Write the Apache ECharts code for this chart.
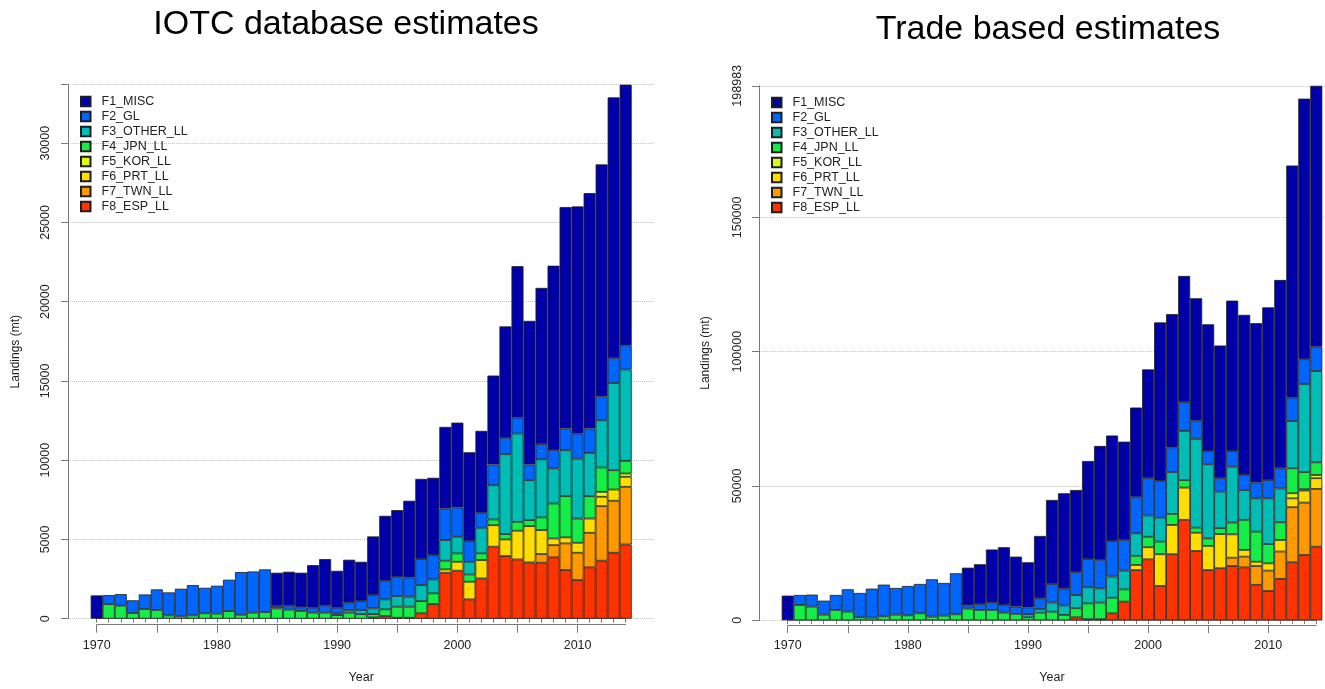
<!DOCTYPE html>
<html>
<head>
<meta charset="utf-8">
<script src="https://cdn.jsdelivr.net/npm/echarts@6/dist/echarts.min.js"></script>
<style>
  html, body { margin: 0; padding: 0; background: #fff; }
  #chart { width: 1325px; height: 689px; }
</style>
</head>
<body>
<div id="chart"></div>
<script>
// Years on the category axis
const years = [
  1970, 1971, 1972, 1973, 1974, 1975, 1976, 1977, 1978, 1979,
  1980, 1981, 1982, 1983, 1984, 1985, 1986, 1987, 1988, 1989,
  1990, 1991, 1992, 1993, 1994, 1995, 1996, 1997, 1998, 1999,
  2000, 2001, 2002, 2003, 2004, 2005, 2006, 2007, 2008, 2009,
  2010, 2011, 2012, 2013, 2014
];

const fleetNames = ['F1_MISC', 'F2_GL', 'F3_OTHER_LL', 'F4_JPN_LL', 'F5_KOR_LL', 'F6_PRT_LL', 'F7_TWN_LL', 'F8_ESP_LL'];
const fleetColors = ['#0000AA', '#0066FF', '#00BDB5', '#14EE46', '#DCFA14', '#FFDD00', '#FF9900', '#FF3300'];

// ---- IOTC database estimates (mt), one value per year, 1970..2014 ----
const iotcMisc = [
  1470, 0, 0, 0, 0, 0, 0, 0, 0, 0,
  0, 0, 0, 0, 0, 2100, 2140, 2180, 2690, 2940,
  2330, 2710, 2480, 3700, 4100, 4210, 4840, 5060, 4880, 5150,
  5350, 5610, 5170, 5610, 7030, 9550, 9060, 9860, 11630, 13970,
  14330, 14850, 14630, 16440, 16440
];
const iotcGl = [
  0, 570, 730, 800, 920, 1300, 1450, 1740, 1910, 1610,
  1760, 1980, 2690, 2600, 2690, 150, 250, 230, 310, 440,
  350, 460, 560, 840, 1170, 1210, 1210, 1640, 1530, 1990,
  1850, 1300, 940, 1310, 1030, 1010, 990, 950, 1160, 1370,
  1580, 1540, 1510, 1580, 1530
];
const iotcOther = [
  0, 0, 0, 0, 0, 0, 0, 0, 0, 0,
  0, 0, 0, 0, 0, 0, 0, 0, 0, 0,
  110, 170, 260, 360, 630, 670, 630, 1010, 880, 1300,
  1050, 800, 1620, 2160, 5040, 5570, 2520, 3670, 2210, 2900,
  3780, 2730, 2980, 5500, 5760
];
const iotcJpn = [
  0, 920, 820, 360, 610, 550, 210, 150, 210, 340,
  320, 480, 250, 380, 420, 650, 570, 490, 380, 380,
  230, 380, 290, 210, 420, 700, 700, 770, 680, 550,
  530, 460, 420, 360, 340, 560, 380, 800, 2210, 2600,
  1530, 1410, 1540, 1220, 800
];
const iotcKor = [
  0, 0, 0, 0, 0, 0, 0, 0, 0, 0,
  0, 0, 0, 0, 0, 0, 0, 0, 0, 0,
  0, 0, 0, 0, 0, 0, 0, 0, 0, 0,
  0, 0, 0, 0, 0, 0, 0, 0, 0, 0,
  0, 0, 310, 0, 210
];
const iotcPrt = [
  0, 0, 0, 0, 0, 0, 0, 0, 0, 0,
  0, 0, 0, 0, 0, 0, 0, 0, 0, 0,
  0, 0, 0, 0, 0, 0, 0, 0, 0, 210,
  560, 1110, 1160, 1360, 1050, 1810, 2290, 1510, 420, 380,
  630, 900, 590, 710, 630
];
const iotcTwn = [
  0, 0, 0, 0, 0, 0, 0, 0, 0, 0,
  0, 0, 0, 0, 0, 0, 0, 0, 0, 0,
  0, 0, 0, 0, 0, 0, 0, 0, 0, 0,
  0, 0, 0, 0, 0, 0, 0, 550, 770, 1680,
  1720, 2180, 3440, 3280, 3640
];
const iotcEsp = [
  0, 0, 0, 0, 0, 0, 0, 0, 0, 0,
  0, 0, 0, 0, 0, 0, 0, 0, 0, 0,
  0, 0, 0, 80, 170, 60, 60, 340, 920, 2900,
  3030, 1220, 2540, 4540, 3950, 3740, 3550, 3530, 3870, 3070,
  2440, 3240, 3660, 4160, 4680
];

// ---- Trade based estimates (mt), one value per year, 1970..2014 ----
const tradeMisc = [
  9180, 0, 0, 0, 0, 0, 0, 0, 0, 0,
  0, 0, 0, 0, 0, 14000, 14900, 19800, 21500, 18600,
  16800, 23200, 31300, 35500, 30600, 36500, 42400, 39300, 36600, 33400,
  40500, 59000, 49600, 47000, 45600, 47200, 49400, 56000, 59600, 59300,
  64300, 70100, 86400, 97000, 97083
];
const tradeGl = [
  0, 3720, 4470, 5210, 5580, 8310, 9060, 10800, 11790, 9930,
  10920, 10920, 13890, 12160, 15270, 1240, 2110, 2700, 2850, 2700,
  2500, 4000, 6900, 6300, 8500, 10500, 10600, 13200, 11400, 13400,
  13900, 13700, 9200, 10700, 6700, 4900, 5000, 5800, 5600, 5900,
  6800, 7500, 8700, 9200, 9100
];
const tradeOther = [
  0, 0, 0, 0, 0, 0, 0, 0, 0, 0,
  0, 0, 0, 0, 0, 0, 0, 0, 0, 0,
  1200, 1350, 3400, 3500, 4900, 6000, 5300, 7900, 7000, 8400,
  7900, 8900, 15600, 18300, 33100, 27600, 13600, 20800, 11100, 12400,
  17000, 12600, 17600, 32800, 34000
];
const tradeJpn = [
  0, 5710, 5090, 2110, 3850, 3230, 1120, 990, 1490, 2110,
  1860, 2610, 1370, 1740, 2230, 4340, 3850, 3850, 2850, 2400,
  1100, 2850, 3200, 2000, 3400, 5900, 6200, 5800, 4550, 3400,
  3900, 4700, 4100, 2800, 1900, 2800, 2200, 4400, 11200, 11200,
  7200, 6600, 9300, 6400, 4700
];
const tradeKor = [
  0, 0, 0, 0, 0, 0, 0, 0, 0, 0,
  0, 0, 0, 0, 0, 0, 0, 0, 0, 0,
  0, 0, 0, 0, 0, 0, 0, 0, 0, 0,
  0, 0, 0, 0, 0, 0, 0, 0, 0, 0,
  0, 0, 1900, 500, 1200
];
const tradePrt = [
  0, 0, 0, 0, 0, 0, 0, 0, 0, 0,
  0, 0, 0, 0, 0, 0, 0, 0, 0, 0,
  0, 0, 0, 0, 0, 0, 0, 0, 0, 1900,
  4500, 11800, 10900, 12000, 6800, 9000, 12700, 8700, 2500, 1600,
  2700, 4300, 3300, 4500, 4000
];
const tradeTwn = [
  0, 0, 0, 0, 0, 0, 0, 0, 0, 0,
  0, 0, 0, 0, 0, 0, 0, 0, 0, 0,
  0, 0, 0, 0, 0, 0, 0, 0, 0, 0,
  0, 0, 0, 0, 0, 0, 0, 3100, 4000, 7000,
  7600, 10200, 20500, 19500, 21500
];
const tradeEsp = [
  0, 0, 0, 0, 0, 0, 0, 0, 0, 0,
  0, 0, 0, 0, 0, 0, 0, 0, 0, 0,
  0, 0, 0, 0, 1100, 400, 400, 2600, 6950, 18700,
  22700, 12800, 24600, 37400, 25800, 18700, 19400, 20200, 19700, 13200,
  10900, 15400, 21600, 24300, 27400
];

const iotcSeries = [iotcMisc, iotcGl, iotcOther, iotcJpn, iotcKor, iotcPrt, iotcTwn, iotcEsp];
const tradeSeries = [tradeMisc, tradeGl, tradeOther, tradeJpn, tradeKor, tradePrt, tradeTwn, tradeEsp];

const yearLabels = years.map(String);
const FONT = 'Liberation Sans, Arial, sans-serif';
const AXIS_COLOR = '#7a7a7a';
const TEXT_COLOR = '#222';

function stackMax(list) {
  return Math.max(...years.map((_, i) => list.reduce((s, arr) => s + arr[i], 0)));
}
const iotcMax = stackMax(iotcSeries);
const tradeMax = stackMax(tradeSeries);

// Panel geometry (pixels)
const panels = [
  { barLeft: 90.7, barWidth: 541, top: 84.7, bottom: 70.3, axisX: 68, plotRight: 653,
    xAxisOffset: 6, max: iotcMax, interval: 5000, nameGapY: 46, labelMarginY: 16,
    data: iotcSeries, showTopLabel: false },
  { barLeft: 781.7, barWidth: 540.6, top: 85.8, bottom: 68.7, axisX: 759, plotRight: 1345,
    xAxisOffset: 5, max: tradeMax, interval: 50000, nameGapY: 47, labelMarginY: 15,
    data: tradeSeries, showTopLabel: true }
];

const grid = [], xAxis = [], yAxis = [], series = [];

panels.forEach((p, pi) => {
  const step = p.barWidth / years.length;
  const gBars = grid.length;
  grid.push({ left: p.barLeft, top: p.top, width: p.barWidth, bottom: p.bottom });
  const gY = grid.length;
  grid.push({ left: p.axisX, top: p.top, width: p.plotRight - p.axisX, bottom: p.bottom });
  const gX = grid.length;
  grid.push({ left: p.barLeft + step / 2, top: p.top, width: step * (years.length - 1), bottom: p.bottom });

  // bar grid axes (hidden)
  const xBars = xAxis.length;
  xAxis.push({ gridIndex: gBars, type: 'category', data: yearLabels, show: false, boundaryGap: true });
  const yBars = yAxis.length;
  yAxis.push({ gridIndex: gBars, type: 'value', min: 0, max: p.max, show: false });

  // y axis with grid lines
  xAxis.push({ gridIndex: gY, type: 'value', show: false });
  yAxis.push({
    gridIndex: gY, type: 'value', min: 0, max: p.max, interval: p.interval,
    name: 'Landings (mt)', nameLocation: 'middle', nameRotate: 90, nameGap: p.nameGapY,
    nameTextStyle: { fontFamily: FONT, fontSize: 12, color: TEXT_COLOR },
    axisLine: { show: true, lineStyle: { color: AXIS_COLOR, width: 1 } },
    axisTick: { show: true, length: 7, lineStyle: { color: AXIS_COLOR } },
    axisLabel: {
      rotate: 90, margin: p.labelMarginY, fontFamily: FONT, fontSize: 12.5, color: TEXT_COLOR,
      showMinLabel: true, showMaxLabel: true,
      formatter: v => (v % p.interval === 0 || p.showTopLabel) ? String(Math.round(v)) : ''
    },
    splitLine: { show: true, lineStyle: { type: 'dotted', color: '#c4c4c4', width: 1 } }
  });

  // x axis: short tick every year, long tick every 5 years, label every 10 years
  yAxis.push({ gridIndex: gX, type: 'value', show: false });
  xAxis.push({
    gridIndex: gX, type: 'category', data: yearLabels, boundaryGap: false, position: 'bottom',
    offset: p.xAxisOffset,
    axisLine: { show: true, lineStyle: { color: AXIS_COLOR, width: 1 } },
    axisTick: { show: true, interval: 0, length: 4, lineStyle: { color: AXIS_COLOR } },
    axisLabel: { show: false },
    splitLine: { show: false }
  });
  xAxis.push({
    gridIndex: gX, type: 'category', data: yearLabels, boundaryGap: false, position: 'bottom',
    offset: p.xAxisOffset,
    name: 'Year', nameLocation: 'middle', nameGap: 46,
    nameTextStyle: { fontFamily: FONT, fontSize: 12.5, color: TEXT_COLOR },
    axisLine: { show: true, lineStyle: { color: AXIS_COLOR, width: 1 } },
    axisTick: { show: true, interval: (i, v) => Number(v) % 5 === 0, length: 8, lineStyle: { color: AXIS_COLOR } },
    axisLabel: {
      interval: (i, v) => Number(v) % 10 === 0, margin: 14,
      fontFamily: FONT, fontSize: 12.5, color: TEXT_COLOR
    },
    splitLine: { show: false }
  });

  // stacked bars: bottom layer first (ESP) up to MISC on top
  for (let k = fleetNames.length - 1; k >= 0; k--) {
    series.push({
      name: fleetNames[k],
      type: 'bar',
      xAxisIndex: xBars,
      yAxisIndex: yBars,
      stack: 'panel' + pi,
      barCategoryGap: '0%',
      barGap: '0%',
      data: p.data[k].map(v => (v > 0 ? v : null)),
      itemStyle: { color: fleetColors[k], borderColor: '#1e1e1e', borderWidth: 0.8 },
      emphasis: { disabled: true },
      animation: false
    });
  }
});

const legendCommon = {
  orient: 'vertical',
  data: fleetNames,
  icon: 'rect',
  padding: 0,
  itemWidth: 9.5,
  itemHeight: 9.5,
  itemGap: 2.0,
  selectedMode: false,
  textStyle: { fontFamily: FONT, fontSize: 12.5, color: TEXT_COLOR, padding: [0, 0, 0, 6] }
};

const option = {
  animation: false,
  backgroundColor: '#fff',
  grid: grid,
  xAxis: xAxis,
  yAxis: yAxis,
  series: series,
  legend: [
    Object.assign({ left: 80, top: 95 }, legendCommon),
    Object.assign({ left: 771, top: 96 }, legendCommon)
  ],
  graphic: [
    { type: 'text', x: 346, y: 25, style: { text: 'IOTC database estimates', font: '34px ' + FONT, fill: '#000', textAlign: 'center', textVerticalAlign: 'middle', verticalAlign: 'middle' } },
    { type: 'text', x: 1048, y: 30, style: { text: 'Trade based estimates', font: '34px ' + FONT, fill: '#000', textAlign: 'center', textVerticalAlign: 'middle', verticalAlign: 'middle' } }
  ]
};

const chart = echarts.init(document.getElementById('chart'), null, { renderer: 'canvas' });
chart.setOption(option);
</script>
</body>
</html>
